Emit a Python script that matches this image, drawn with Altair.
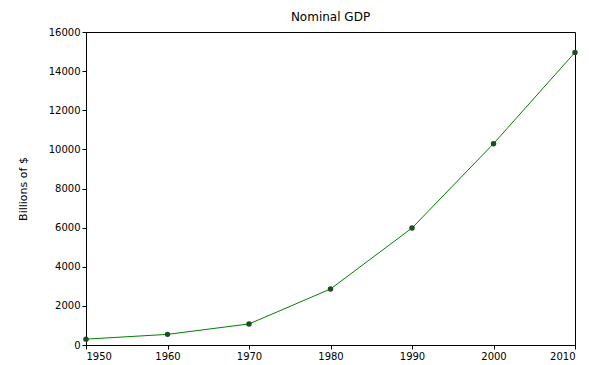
import altair as alt
import pandas as pd

years = [1950, 1960, 1970, 1980, 1990, 2000, 2010]
gdp = [300.2, 543.3, 1075.9, 2862.5, 5979.6, 10289.7, 14958.3]

df = pd.DataFrame({"year": years, "gdp": gdp})

x = alt.X("year:Q", scale=alt.Scale(domain=[1950, 2010], nice=False, zero=False),
          axis=alt.Axis(values=years, format="d", title=None, grid=False,
                        tickSize=4, labelFontSize=10, labelColor="#000",
                        domainColor="#000", tickColor="#000", labelFont="DejaVu Sans"))
y = alt.Y("gdp:Q", scale=alt.Scale(domain=[0, 16000], nice=False),
          axis=alt.Axis(values=list(range(0, 16001, 2000)), format="d", title="Billions of $",
                        grid=False, tickSize=4, labelFontSize=10, labelColor="#000",
                        titleFontSize=11, titleFontWeight="normal", titleColor="#000",
                        titlePadding=20, domainColor="#000", tickColor="#000",
                        labelFont="DejaVu Sans", titleFont="DejaVu Sans"))

line = alt.Chart(df).mark_line(color="green", strokeWidth=1).encode(x=x, y=y)
pts = alt.Chart(df).mark_point(filled=True, color="#1f4d1f", size=30, opacity=1).encode(x=x, y=y)

chart = (line + pts).properties(
    width=489, height=313,
    title=alt.TitleParams("Nominal GDP", fontSize=12, fontWeight="normal",
                          font="DejaVu Sans", color="#000", offset=3),
    autosize=alt.AutoSizeParams(type="none"),
    padding={"left": 86, "top": 32, "right": 14, "bottom": 20},
    background="white",
).configure_view(stroke="#000", strokeWidth=1)

chart.save("out.html", embed_options={"renderer": "svg", "actions": False})
